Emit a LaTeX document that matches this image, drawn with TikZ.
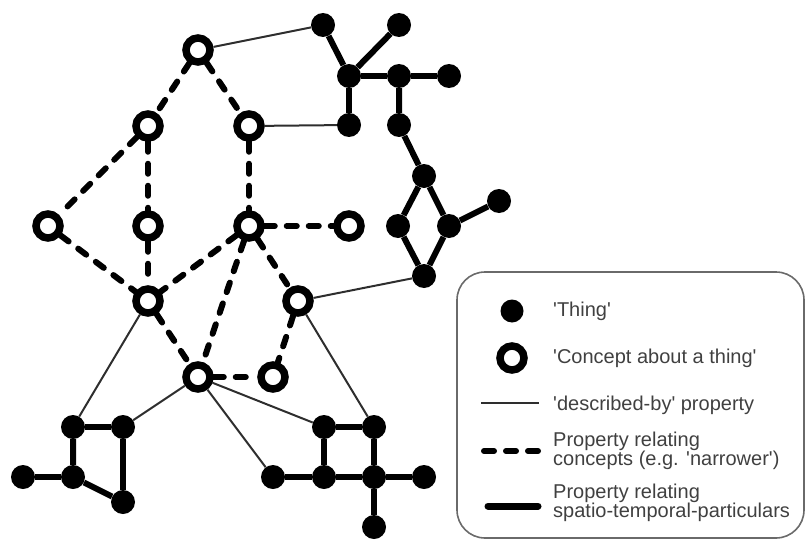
\documentclass[tikz,border=0pt]{standalone}
\usepackage{fontspec}
\setmainfont{Liberation Sans}
\usetikzlibrary{positioning}
\definecolor{LinkGrey}{HTML}{2E2E2E}
\definecolor{LabelGrey}{HTML}{404040}
\definecolor{FrameGrey}{HTML}{6A6A6A}
\newcommand{\sq}{\textquotesingle}
\tikzset{
  thing/.style={circle,fill=black,minimum size=24pt,inner sep=0pt},
  concept/.style={circle,draw=black,fill=white,line width=7.5pt,minimum size=24pt,inner sep=0pt},
  describedby/.style={draw=LinkGrey,line width=2pt},
  narrower/.style={draw=black,line width=6pt,line cap=round,dash pattern=on 10pt off 12pt},
  particular/.style={draw=black,line width=6pt},
  keytext/.style={anchor=west,text=LabelGrey,font=\fontsize{20}{16}\selectfont,align=left,inner sep=0pt},
}
\begin{document}
\begin{tikzpicture}[x=1pt,y=-1pt]
  \useasboundingbox (0,0) rectangle (808,543);
  % concepts
  \node[concept] (c1) at (198,50) {};
  \node[concept] (c2) at (148,126) {};
  \node[concept] (c3) at (249,126) {};
  \node[concept] (c4) at (48,226) {};
  \node[concept] (c5) at (148,226) {};
  \node[concept] (c6) at (249,226) {};
  \node[concept] (c7) at (349,226) {};
  \node[concept] (c8) at (148,301) {};
  \node[concept] (c9) at (298,301) {};
  \node[concept] (c10) at (198,377) {};
  \node[concept] (c11) at (273,377) {};
  % things, top right
  \node[thing] (t1) at (323,25) {};
  \node[thing] (t2) at (399,25) {};
  \node[thing] (t3) at (349,76) {};
  \node[thing] (t4) at (399,76) {};
  \node[thing] (t5) at (449,76) {};
  \node[thing] (t6) at (349,125) {};
  \node[thing] (t7) at (399,125) {};
  \node[thing] (t8) at (424,176) {};
  \node[thing] (t9) at (398,226) {};
  \node[thing] (t10) at (449,226) {};
  \node[thing] (t11) at (499,201) {};
  \node[thing] (t12) at (424,276) {};
  % things, bottom left
  \node[thing] (b1) at (73,427) {};
  \node[thing] (b2) at (123,427) {};
  \node[thing] (b3) at (23,477) {};
  \node[thing] (b4) at (73,477) {};
  \node[thing] (b5) at (123,502) {};
  % things, bottom right
  \node[thing] (r1) at (324,427) {};
  \node[thing] (r2) at (374,427) {};
  \node[thing] (r3) at (273,477) {};
  \node[thing] (r4) at (324,477) {};
  \node[thing] (r5) at (374,477) {};
  \node[thing] (r6) at (424,477) {};
  \node[thing] (r7) at (374,527) {};
  % concept links
  \draw[narrower] (c1) -- (c2);
  \draw[narrower] (c1) -- (c3);
  \draw[narrower] (c2) -- (c4);
  \draw[narrower] (c2) -- (c5);
  \draw[narrower] (c3) -- (c6);
  \draw[narrower] (c4) -- (c8);
  \draw[narrower] (c5) -- (c8);
  \draw[narrower] (c6) -- (c8);
  \draw[narrower] (c6) -- (c7);
  \draw[narrower] (c6) -- (c10);
  \draw[narrower] (c6) -- (c9);
  \draw[narrower] (c8) -- (c10);
  \draw[narrower] (c9) -- (c11);
  \draw[narrower] (c10) -- (c11);
  % particulars
  \draw[particular] (t1) -- (t3);
  \draw[particular] (t2) -- (t3);
  \draw[particular] (t3) -- (t4) -- (t5);
  \draw[particular] (t3) -- (t6);
  \draw[particular] (t4) -- (t7) -- (t8);
  \draw[particular] (t8) -- (t9) -- (t12);
  \draw[particular] (t8) -- (t10) -- (t12);
  \draw[particular] (t10) -- (t11);
  \draw[particular] (b1) -- (b2) -- (b5);
  \draw[particular] (b1) -- (b4) -- (b5);
  \draw[particular] (b3) -- (b4);
  \draw[particular] (r1) -- (r2) -- (r5);
  \draw[particular] (r1) -- (r4);
  \draw[particular] (r3) -- (r4) -- (r5) -- (r6);
  \draw[particular] (r5) -- (r7);
  % described-by
  \draw[describedby] (c1) -- (t1);
  \draw[describedby] (c3) -- (t6);
  \draw[describedby] (c9) -- (t12);
  \draw[describedby] (c8) -- (b1);
  \draw[describedby] (c10) -- (b2);
  \draw[describedby] (c10) -- (r1);
  \draw[describedby] (c10) -- (r3);
  \draw[describedby] (c9) -- (r2);
  % legend
  \node[draw=FrameGrey,line width=1.6pt,rounded corners=28pt,minimum width=347pt,minimum height=266pt,inner sep=0pt] (keyFrame) at (630.5,405) {};
  \node[thing,minimum size=23pt] (keyThing) at (512,311) {};
  \node[concept] (keyConcept) at (512,358) {};
  \coordinate (keyThinA) at (481,403);
  \coordinate (keyThinB) at (539,403);
  \coordinate (keyDashA) at (484,451);
  \coordinate (keyDashB) at (538,451);
  \coordinate (keyThickA) at (488,506);
  \coordinate (keyThickB) at (538,506);
  \draw[describedby] (keyThinA) -- (keyThinB);
  \draw[narrower] (keyDashA) -- (keyDashB);
  \draw[particular,line width=7pt,line cap=round] (keyThickA) -- (keyThickB);
  \node[keytext] (keyThingText) at (553,311) {\sq Thing\sq};
  \node[keytext] (keyConceptText) at (553,358) {\sq Concept about a thing\sq};
  \node[keytext] (keyThinText) at (553,405) {\sq described-by\sq{} property};
  \node[keytext] (keyDashText) at (553,451) {Property relating\\concepts (e.g. \sq narrower\sq)};
  \node[keytext] (keyThickText) at (553,503) {Property relating\\spatio-temporal-particulars};
\end{tikzpicture}
\end{document}
